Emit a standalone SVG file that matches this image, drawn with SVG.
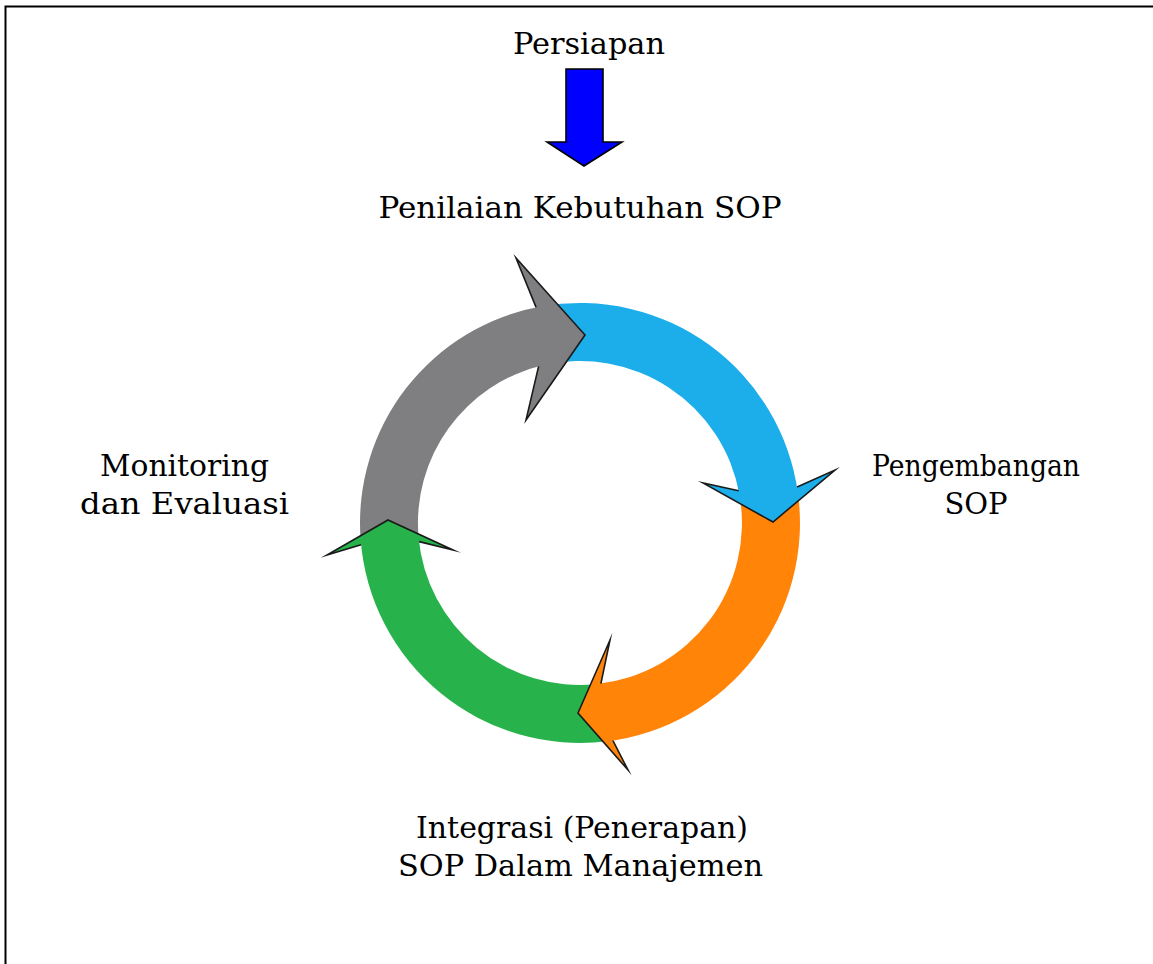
<svg xmlns="http://www.w3.org/2000/svg" width="1153" height="964" viewBox="0 0 1153 964">
<style>
.lbl{font-family:"DejaVu Serif","Liberation Serif",serif;font-size:29px;fill:#000;text-anchor:middle}
.head{stroke:#1a1a1a;stroke-width:1.6;stroke-linejoin:miter;stroke-miterlimit:20}
.gray{fill:#7f7f82}
.blue{fill:#1caeea}
.orange{fill:#ff8408}
.green{fill:#27b24b}
</style>
<rect x="0" y="0" width="1153" height="964" fill="#fff"/>
<path id="frame" d="M5.5,964 V6.5 H1153" fill="none" stroke="#000" stroke-width="2"/>
<g id="connectors">
  <!-- shafts -->
  <path class="gray" d="M360.6,539.1 A220,220 0 0 1 541.8,306.3 L542.7,365.3 A162,162 0 0 0 418.6,537.4 Z"/>
  <path class="blue" d="M541.8,306.3 A220,220 0 0 1 797.9,492.8 L739.5,494.9 A162,162 0 0 0 542.7,365.3 Z"/>
  <path class="orange" d="M797.9,492.8 A220,220 0 0 1 607.2,741.3 L596.7,684.1 A162,162 0 0 0 739.5,494.9 Z"/>
  <path class="green" d="M607.2,741.3 A220,220 0 0 1 360.6,539.1 L418.6,537.4 A162,162 0 0 0 596.7,684.1 Z"/>
  <!-- heads -->
  <path class="gray head" d="M536.1,307.4 L516,258 L585,335 L526,420 L538.6,366.4"/>
  <path class="blue head" d="M797.1,487.1 L835,470 L773,522 L703,483 L738.7,490.7"/>
  <path class="orange head" d="M612.9,740.5 L628,770 L578,713 L610,640 L600.9,683.7"/>
  <path class="green head" d="M361.1,544.8 L327,555 L388,520 L453,550 L419.1,541.6"/>
  <!-- entry arrow -->
  <polygon points="566,69 603,69 603,142 622,142 584,166 547,142 566,142" fill="#0000ff" stroke="#000" stroke-width="1.6"/>
</g>
<g id="node-persiapan"><text class="lbl" x="589" y="54" textLength="152" lengthAdjust="spacingAndGlyphs">Persiapan</text></g>
<g id="node-penilaian"><text class="lbl" x="580" y="218" textLength="403" lengthAdjust="spacingAndGlyphs">Penilaian Kebutuhan SOP</text></g>
<g id="node-pengembangan">
  <text class="lbl" x="976" y="476" textLength="208" lengthAdjust="spacingAndGlyphs">Pengembangan</text>
  <text class="lbl" x="976" y="514">SOP</text>
</g>
<g id="node-integrasi">
  <text class="lbl" x="582" y="838" textLength="332" lengthAdjust="spacingAndGlyphs">Integrasi (Penerapan)</text>
  <text class="lbl" x="580.5" y="876" textLength="365" lengthAdjust="spacingAndGlyphs">SOP Dalam Manajemen</text>
</g>
<g id="node-monitoring">
  <text class="lbl" x="184.5" y="476" textLength="169" lengthAdjust="spacingAndGlyphs">Monitoring</text>
  <text class="lbl" x="184.5" y="514" textLength="209" lengthAdjust="spacingAndGlyphs">dan Evaluasi</text>
</g>
</svg>
